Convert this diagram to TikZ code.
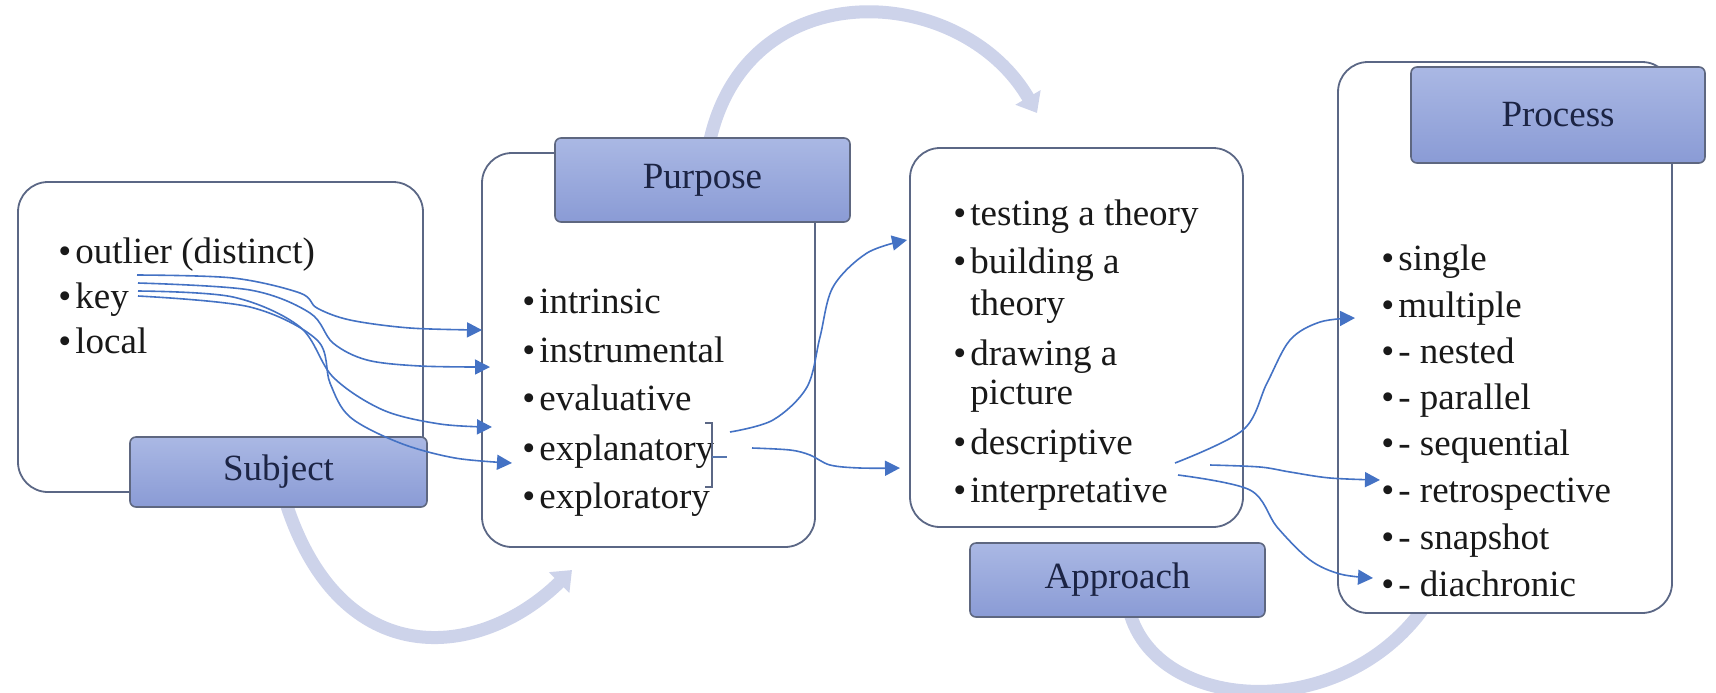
\documentclass[tikz,border=0pt]{standalone}
\usepackage{fontspec}
\setmainfont{Liberation Serif}
\usetikzlibrary{arrows.meta}
\definecolor{boxline}{HTML}{5B6785}
\definecolor{lbltop}{HTML}{AAB8E4}
\definecolor{lblbot}{HTML}{8A9BD5}
\definecolor{lblline}{HTML}{5E6780}
\definecolor{lbltext}{HTML}{1C2444}
\definecolor{arccol}{HTML}{CDD3EA}
\definecolor{conncol}{HTML}{4472C4}
\newcommand{\bl}{\llap{\textbullet\hspace{2pt}}}
\begin{document}
\begin{tikzpicture}[x=0.5pt,y=-0.5pt,
  font=\fontsize{18.5pt}{22pt}\selectfont,
  outerbox/.style={draw=boxline, line width=0.9pt, fill=white, rounded corners=15pt, inner sep=0pt},
  labelbox/.style={draw=lblline, line width=0.8pt, top color=lbltop, bottom color=lblbot, rounded corners=3pt, inner sep=0pt, text=lbltext},
  itemtxt/.style={anchor=base west, inner sep=0pt, text=black!90},
  bigarc/.style={draw=arccol, line width=6.5pt, -{Triangle[width=14pt,length=9pt]}},
  linkarrow/.style={draw=conncol, line width=0.8pt, -{Triangle[width=7.5pt,length=7.5pt]}},
]
\useasboundingbox (0,0) rectangle (1716,692);

% big decorative arcs
\coordinate (a1s) at (285,500); \coordinate (a1e) at (572,570);
\coordinate (a2s) at (708,150); \coordinate (a2e) at (1037,113);
\coordinate (a3s) at (1128,605); \coordinate (a3e) at (1450,560);
\draw[bigarc] (a1s) .. controls (340,675) and (480,660) .. (a1e);
\draw[bigarc] (a2s) .. controls (740,-30) and (960,-20) .. (a2e);
\draw[bigarc] (a3s) .. controls (1150,720) and (1370,730) .. (a3e);

% outer boxes
\node[outerbox, minimum width=202.5pt, minimum height=155pt] (subjbox) at (220.5,337) {};
\node[outerbox, minimum width=166.5pt, minimum height=197pt] (purpbox) at (648.5,350) {};
\node[outerbox, minimum width=166.5pt, minimum height=189.5pt] (apprbox) at (1076.5,337.5) {};
\node[outerbox, minimum width=167pt, minimum height=275.5pt] (procbox) at (1505,337.5) {};

% title labels
\node[labelbox, minimum width=148.5pt, minimum height=35pt] (subjlbl) at (278.5,472) {Subject};
\node[labelbox, minimum width=147.5pt, minimum height=42pt] (purplbl) at (702.5,180) {Purpose};
\node[labelbox, minimum width=147.5pt, minimum height=37pt] (apprlbl) at (1117.5,580) {Approach};
\node[labelbox, minimum width=147pt, minimum height=48pt] (proclbl) at (1558,115) {Process};

% Subject items
\node[itemtxt] (s1) at (75,263) {\bl outlier (distinct)};
\node[itemtxt] (s2) at (75,308) {\bl key};
\node[itemtxt] (s3) at (75,353) {\bl local};

% Purpose items
\node[itemtxt] (p1) at (539,313) {\bl intrinsic};
\node[itemtxt] (p2) at (539,362) {\bl instrumental};
\node[itemtxt] (p3) at (539,410) {\bl evaluative};
\node[itemtxt] (p4) at (539,460) {\bl explanatory};
\node[itemtxt] (p5) at (539,508) {\bl exploratory};

% Approach items
\node[itemtxt] (q1) at (970,225) {\bl testing a theory};
\node[itemtxt] (q2) at (970,273) {\bl building a};
\node[itemtxt] (q2b) at (970,315) {theory};
\node[itemtxt] (q3) at (970,365) {\bl drawing a};
\node[itemtxt] (q3b) at (970,404) {picture};
\node[itemtxt] (q4) at (970,454) {\bl descriptive};
\node[itemtxt] (q5) at (970,502) {\bl interpretative};

% Process items
\node[itemtxt] (r1) at (1398,270) {\bl single};
\node[itemtxt] (r2) at (1398,317) {\bl multiple};
\node[itemtxt] (r3) at (1398,363) {\bl - nested};
\node[itemtxt] (r4) at (1398,409) {\bl - parallel};
\node[itemtxt] (r5) at (1398,455) {\bl - sequential};
\node[itemtxt] (r6) at (1398,502) {\bl - retrospective};
\node[itemtxt] (r7) at (1398,549) {\bl - snapshot};
\node[itemtxt] (r8) at (1398,596) {\bl - diachronic};

% bracket after explanatory/exploratory
\coordinate (bt) at (712,423); \coordinate (bb) at (712,487); \coordinate (bm) at (712,457);
\draw[boxline, line width=0.7pt] ([xshift=-3.5pt]bt) -- (bt) -- (bb) -- ([xshift=-3.5pt]bb);
\draw[conncol!70!gray, line width=0.7pt] (bm) -- ++(15,0);

% connector end points
\coordinate (sa) at (137,275); \coordinate (ta) at (482,330);
\coordinate (sb) at (138,283); \coordinate (tb) at (490,367);
\coordinate (sc) at (138,291); \coordinate (tc) at (492,427);
\coordinate (sd) at (138,296); \coordinate (td) at (512,463);
\coordinate (se) at (730,432); \coordinate (te) at (907,240);
\coordinate (sf) at (752,448); \coordinate (tf) at (900,468);
\coordinate (sg) at (1175,463); \coordinate (tg) at (1355,318);
\coordinate (sh) at (1210,465); \coordinate (th) at (1380,480);
\coordinate (si) at (1178,475); \coordinate (ti) at (1373,578);

\draw[linkarrow] plot[smooth, tension=0.55] coordinates {(sa) (233,278) (300,293) (317,308) (350,320) (410,328) (ta)};
\draw[linkarrow] plot[smooth, tension=0.55] coordinates {(sb) (250,290) (310,313) (333,343) (367,360) (420,366) (tb)};
\draw[linkarrow] plot[smooth, tension=0.55] coordinates {(sc) (233,297) (300,327) (333,377) (383,410) (440,424) (tc)};
\draw[linkarrow] plot[smooth, tension=0.55] coordinates {(sd) (250,307) (317,340) (330,383) (350,417) (400,443) (455,458) (td)};
\draw[linkarrow] plot[smooth, tension=0.55] coordinates {(se) (773,420) (807,387) (820,337) (833,287) (867,253) (te)};
\draw[linkarrow] plot[smooth, tension=0.55] coordinates {(sf) (790,450) (810,455) (830,465) (860,468) (tf)};
\draw[linkarrow] plot[smooth, tension=0.55] coordinates {(sg) (1243,430) (1267,383) (1290,340) (1320,322) (tg)};
\draw[linkarrow] plot[smooth, tension=0.55] coordinates {(sh) (1260,467) (1290,472) (1330,478) (th)};
\draw[linkarrow] plot[smooth, tension=0.55] coordinates {(si) (1250,490) (1277,527) (1310,560) (1340,574) (ti)};
\end{tikzpicture}
\end{document}
